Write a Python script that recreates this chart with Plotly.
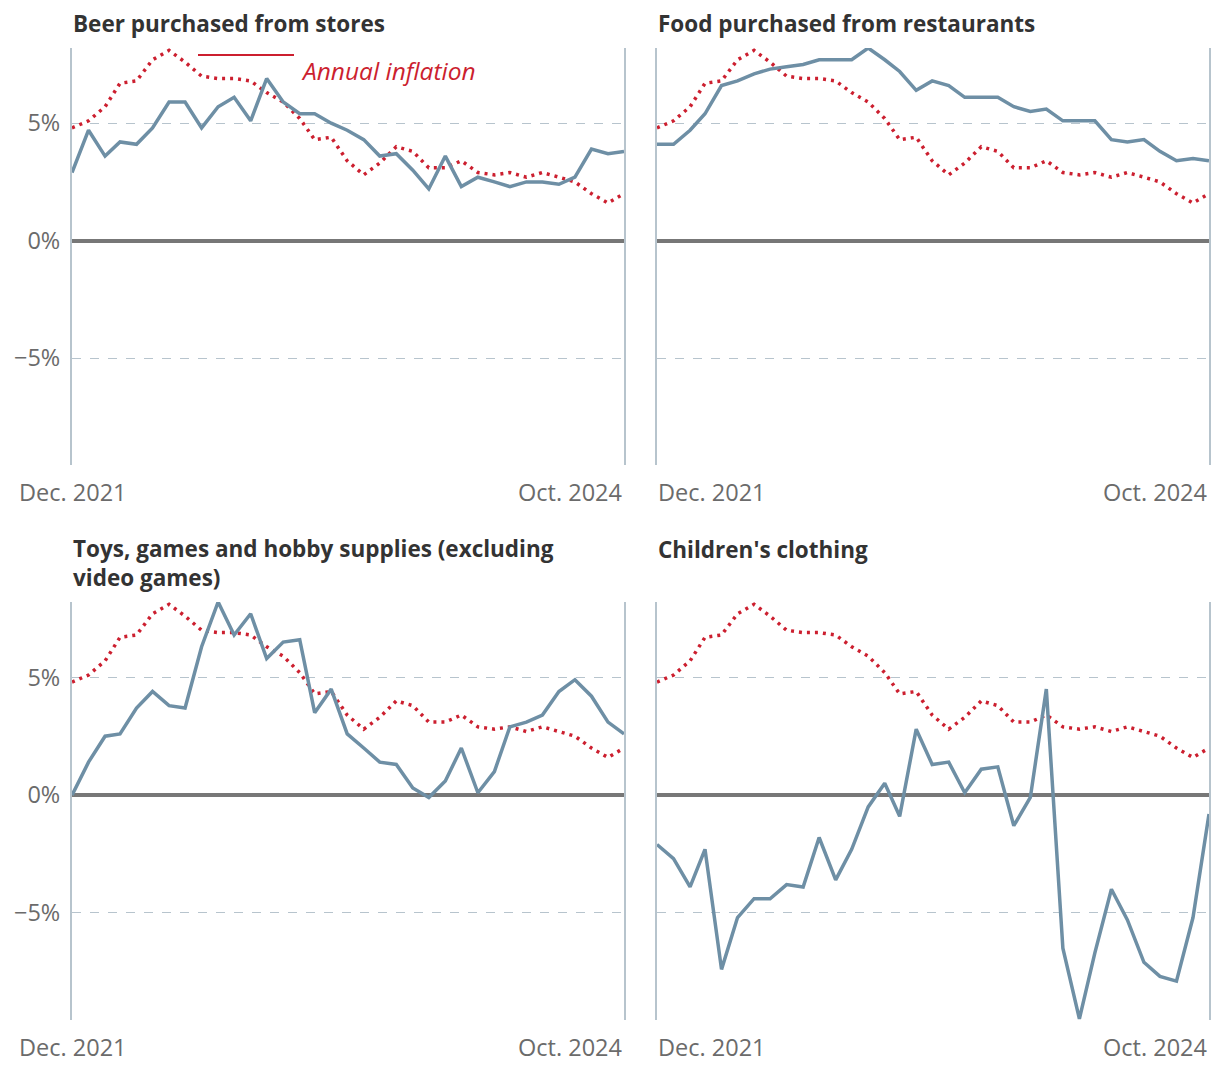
import pandas as pd
import plotly.graph_objects as go

months = pd.date_range("2021-12-01", "2024-10-01", freq="MS")

inflation = [4.8, 5.1, 5.7, 6.7, 6.8, 7.7, 8.1, 7.6, 7.0, 6.9, 6.9, 6.8,
             6.3, 5.9, 5.2, 4.3, 4.4, 3.4, 2.8, 3.3, 4.0, 3.8, 3.1, 3.1,
             3.4, 2.9, 2.8, 2.9, 2.7, 2.9, 2.7, 2.5, 2.0, 1.6, 2.0]

beer = [2.9, 4.7, 3.6, 4.2, 4.1, 4.8, 5.9, 5.9, 4.8, 5.7, 6.1, 5.1,
        6.9, 5.9, 5.4, 5.4, 5.0, 4.7, 4.3, 3.6, 3.7, 3.0, 2.2, 3.6,
        2.3, 2.7, 2.5, 2.3, 2.5, 2.5, 2.4, 2.7, 3.9, 3.7, 3.8]

food_restaurants = [4.1, 4.1, 4.7, 5.4, 6.6, 6.8, 7.1, 7.3, 7.4, 7.5, 7.7, 7.7,
                    7.7, 8.2, 7.7, 7.2, 6.4, 6.8, 6.6, 6.1, 6.1, 6.1, 5.7, 5.5,
                    5.6, 5.1, 5.1, 5.1, 4.3, 4.2, 4.3, 3.8, 3.4, 3.5, 3.4]

toys = [0.0, 1.4, 2.5, 2.6, 3.7, 4.4, 3.8, 3.7, 6.3, 8.2, 6.8, 7.7,
        5.8, 6.5, 6.6, 3.5, 4.5, 2.6, 2.0, 1.4, 1.3, 0.3, -0.1, 0.6,
        2.0, 0.1, 1.0, 2.9, 3.1, 3.4, 4.4, 4.9, 4.2, 3.1, 2.6]

childrens_clothing = [-2.1, -2.7, -3.9, -2.3, -7.4, -5.2, -4.4, -4.4, -3.8, -3.9, -1.8, -3.6,
                      -2.3, -0.5, 0.5, -0.9, 2.8, 1.3, 1.4, 0.1, 1.1, 1.2, -1.3, -0.1,
                      4.5, -6.5, -9.5, -6.7, -4.0, -5.3, -7.1, -7.7, -7.9, -5.2, -0.8]

titles = ["Beer purchased from stores",
          "Food purchased from restaurants",
          "Toys, games and hobby supplies (excluding<br>video games)",
          "Children's clothing"]
series = [beer, food_restaurants, toys, childrens_clothing]

x_labels = ["Dec. 2021", "Oct. 2024"]
y_ticks = [-5, 0, 5]
y_tick_labels = ["\u22125%", "0%", "5%"]
legend_label = "Annual inflation"

BLUE = "#6e8fa5"
RED = "#cc1f2f"
AXIS = "#b7c4cd"
FONT = "Open Sans"
TICK_COLOR = "#6b6b6b"
TICK_SIZE = 23.5
TITLE_SIZE = 22.5

# page body adds an 8px offset; compensate
OFF = 8
W, H = 1220 - OFF, 1070 - OFF
ml, mr, mt, mb = 72 - OFF, 11, 48 - OFF, 50
pw = W - ml - mr
ph = H - mt - mb
x_domains = [[0, (624 - 72) / pw], [(657 - 72) / pw, 1]]
y_domains = [[1 - (465 - 48) / ph, 1], [0, 1 - (602 - 48) / ph]]

fig = go.Figure()
layout = dict(
    width=W, height=H,
    margin=dict(l=ml, r=mr, t=mt, b=mb, autoexpand=False),
    plot_bgcolor="white", paper_bgcolor="white",
    showlegend=False,
    font=dict(family=FONT, color=TICK_COLOR, size=TICK_SIZE),
)
annotations = []
shapes = []

for k in range(4):
    row, col = divmod(k, 2)
    xa = "x" if k == 0 else f"x{k+1}"
    ya = "y" if k == 0 else f"y{k+1}"
    xkey = "xaxis" if k == 0 else f"xaxis{k+1}"
    ykey = "yaxis" if k == 0 else f"yaxis{k+1}"

    fig.add_trace(go.Scatter(x=months, y=inflation, mode="lines",
                             line=dict(color=RED, width=3.5, dash="3px,5px"),
                             xaxis=xa, yaxis=ya, hoverinfo="skip"))
    fig.add_trace(go.Scatter(x=months, y=series[k], mode="lines",
                             line=dict(color=BLUE, width=3.5),
                             xaxis=xa, yaxis=ya))

    layout[xkey] = dict(domain=x_domains[col], anchor=ya,
                        range=[months[0], months[-1]], automargin=False,
                        showgrid=False, showticklabels=False, ticks="",
                        zeroline=False, showline=False)
    layout[ykey] = dict(domain=y_domains[row], anchor=xa,
                        range=[-9.55, 8.2], automargin=False,
                        tickvals=y_ticks, ticktext=y_tick_labels,
                        showticklabels=(col == 0),
                        tickfont=dict(size=TICK_SIZE, color=TICK_COLOR, family=FONT),
                        ticks="", ticklabelstandoff=5,
                        showgrid=True, gridcolor=AXIS, griddash="dash", gridwidth=1,
                        zeroline=True, zerolinecolor="#777777", zerolinewidth=3.5,
                        showline=True, mirror=True, linecolor=AXIS, linewidth=2)

    # panel title (single-line titles in bottom row align with first line of the two-line one)
    extra = 28 if (row == 1 and "<br>" not in titles[k]) else 0
    annotations.append(dict(text=f"<b>{titles[k]}</b>", xref=f"{xa} domain", yref=f"{ya} domain",
                            x=0, y=1, xanchor="left", yanchor="bottom", xshift=-1, yshift=7 + extra,
                            showarrow=False, align="left",
                            font=dict(size=TITLE_SIZE, color="#333333", family=FONT)))
    # x labels
    annotations.append(dict(text=x_labels[0], xref=xa, yref=f"{ya} domain",
                            x=months[0], y=0,
                            xanchor="center" if col == 0 else "left",
                            xshift=1 if col == 0 else -1,
                            yanchor="top", yshift=-9,
                            showarrow=False, font=dict(size=TICK_SIZE, color=TICK_COLOR, family=FONT)))
    annotations.append(dict(text=x_labels[1], xref=xa, yref=f"{ya} domain",
                            x=months[-1], y=0, xanchor="right", yanchor="top", yshift=-9,
                            showarrow=False, font=dict(size=TICK_SIZE, color=TICK_COLOR, family=FONT)))

# legend for inflation line
shapes.append(dict(type="line", xref="x domain", yref="y domain",
                   x0=(198 - 72) / 552, x1=(294 - 72) / 552,
                   y0=(465 - 55) / 417, y1=(465 - 55) / 417,
                   line=dict(color=RED, width=2)))
annotations.append(dict(text=f"<i>{legend_label}</i>", xref="x domain", yref="y domain",
                        x=(299 - 72) / 552, y=(465 - 70) / 417, xanchor="left", yanchor="middle",
                        showarrow=False, font=dict(size=24.5, color=RED, family=FONT)))

layout["annotations"] = annotations
layout["shapes"] = shapes
fig.update_layout(**layout)
fig.write_html("out.html")
